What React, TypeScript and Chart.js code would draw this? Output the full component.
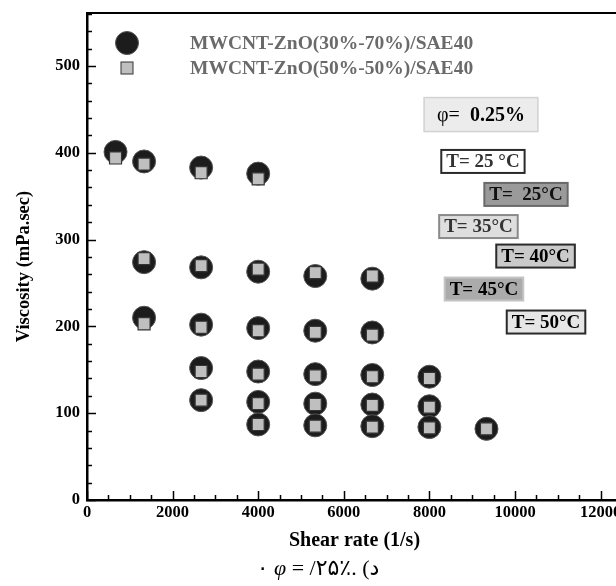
import React, { useEffect, useRef } from "react";
import { Chart, registerables } from "chart.js";
Chart.register(...registerables);

// ---- data (shear rate in 1/s, viscosity in mPa.sec) ----
const rateRowA = [666.7, 1333.3, 2666.7, 4000];
const circRowA = [401, 390, 383, 376];
const sqRowA = [394, 387, 377, 370];

const rateRowB = [1333.3, 2666.7, 4000, 5333.3, 6666.7];
const circRowB = [274, 268, 263, 258, 255];
const sqRowB = [278, 270, 266, 262, 258];

const rateRowC = [1333.3, 2666.7, 4000, 5333.3, 6666.7];
const circRowC = [210, 202, 198, 195, 193];
const sqRowC = [203, 199, 195, 193, 190];

const rateRowD = [2666.7, 4000, 5333.3, 6666.7, 8000];
const circRowD = [152, 148, 145, 144, 142];
const sqRowD = [148, 145, 143, 142, 140];

const rateRowE = [2666.7, 4000, 5333.3, 6666.7, 8000];
const circRowE = [115, 113, 111, 110, 108];
const sqRowE = [115, 111, 110, 109, 107];

const rateRowF = [4000, 5333.3, 6666.7, 8000, 9333.3];
const circRowF = [87, 86, 85, 84, 82];
const sqRowF = [87, 85, 84, 83, 82];

const seriesNames = ["MWCNT-ZnO(30%-70%)/SAE40", "MWCNT-ZnO(50%-50%)/SAE40"];

// axis ticks
const xMajorStep = 2000;
const xMinorStep = 500;
const yMajorStep = 100;
const yMinorStep = 20;

// annotation labels, anchored in data units (x, y = box centre)
const tempLabels = ["T= 25 °C", "T=  25°C", "T= 35°C", "T= 40°C", "T= 45°C", "T= 50°C"];
const tempLabelX = [9251, 10257, 9146, 10480, 9275, 10725];
const tempLabelY = [390, 352, 315, 281, 243, 205];
const phiPrefix = "φ=";
const phiValue = "0.25%";
const phiX = 9205;
const phiY = 444;

const xTitle = "Shear rate (1/s)";
const yTitle = "Viscosity (mPa.sec)";

const tempStyles = [
  { fill: "#ffffff", stroke: "#2a2a2a", text: "#333333" },
  { fill: "#9a9a9a", stroke: "#6a6a6a", text: "#111111" },
  { fill: "#dedede", stroke: "#8a8a8a", text: "#333333" },
  { fill: "#cacaca", stroke: "#2a2a2a", text: "#000000" },
  { fill: "#ababab", stroke: "#c4c4c4", text: "#000000" },
  { fill: "#e6e6e6", stroke: "#2a2a2a", text: "#000000" },
];

const zip = (xs: number[], ys: number[]) => xs.map((x, i) => ({ x, y: ys[i] }));

const SERIF = '"Liberation Serif", "Times New Roman", serif';

const overlayPlugin = {
  id: "overlay",
  afterDatasetsDraw(chart: any) {
    const { ctx, chartArea, scales } = chart;
    const xs = scales.x;
    const ys = scales.y;
    ctx.save();
    // top frame line
    ctx.strokeStyle = "#000";
    ctx.lineWidth = 2;
    ctx.beginPath();
    ctx.moveTo(chartArea.left, chartArea.top);
    ctx.lineTo(chartArea.right + 30, chartArea.top);
    ctx.stroke();

    // inward tick marks
    ctx.lineWidth = 1.5;
    xs.ticks.forEach((t: any) => {
      const px = Math.round(xs.getPixelForValue(t.value)) + 0.5;
      const len = t.value % xMajorStep === 0 ? 9 : 5;
      ctx.beginPath();
      ctx.moveTo(px, chartArea.bottom);
      ctx.lineTo(px, chartArea.bottom - len);
      ctx.stroke();
    });
    for (let v = ys.min; v <= ys.max; v += yMinorStep) {
      const py = Math.round(ys.getPixelForValue(v)) + 0.5;
      const len = v % yMajorStep === 0 ? 9 : 5;
      ctx.beginPath();
      ctx.moveTo(chartArea.left, py);
      ctx.lineTo(chartArea.left + len, py);
      ctx.stroke();
    }

    // y title
    ctx.save();
    ctx.translate(24, (chartArea.top + chartArea.bottom) / 2 + 10);
    ctx.rotate(-Math.PI / 2);
    ctx.font = `bold 18.5px ${SERIF}`;
    ctx.fillStyle = "#000";
    ctx.textAlign = "center";
    ctx.textBaseline = "middle";
    ctx.fillText(yTitle, 0, 0);
    ctx.restore();

    // legend
    const lx = chartArea.left + 40;
    const ly1 = chartArea.top + 30;
    const ly2 = chartArea.top + 55;
    ctx.fillStyle = "#1c1c1c";
    ctx.strokeStyle = "#555";
    ctx.lineWidth = 1;
    ctx.beginPath();
    ctx.arc(lx, ly1, 11.5, 0, Math.PI * 2);
    ctx.fill();
    ctx.stroke();
    ctx.fillStyle = "#bfbfbf";
    ctx.strokeStyle = "#333";
    ctx.fillRect(lx - 6, ly2 - 6, 12, 12);
    ctx.strokeRect(lx - 6, ly2 - 6, 12, 12);
    ctx.font = `bold 19.5px ${SERIF}`;
    ctx.fillStyle = "#6a6a6a";
    ctx.textAlign = "left";
    ctx.textBaseline = "middle";
    ctx.fillText(seriesNames[0], chartArea.left + 103, ly1 + 1);
    ctx.fillText(seriesNames[1], chartArea.left + 103, ly2 + 1);

    // phi box
    {
      const cx = xs.getPixelForValue(phiX);
      const cy = ys.getPixelForValue(phiY);
      ctx.font = `20px ${SERIF}`;
      const w1 = ctx.measureText(phiPrefix + "  ").width;
      ctx.font = `bold 20px ${SERIF}`;
      const w2 = ctx.measureText(phiValue).width;
      const bw = w1 + w2 + 26;
      const bh = 34;
      ctx.fillStyle = "#ececec";
      ctx.strokeStyle = "#d2d2d2";
      ctx.lineWidth = 1.5;
      ctx.fillRect(cx - bw / 2, cy - bh / 2, bw, bh);
      ctx.strokeRect(cx - bw / 2, cy - bh / 2, bw, bh);
      ctx.fillStyle = "#000";
      ctx.textAlign = "left";
      ctx.textBaseline = "middle";
      ctx.font = `20px ${SERIF}`;
      ctx.fillText(phiPrefix, cx - bw / 2 + 13, cy + 1);
      ctx.font = `bold 20px ${SERIF}`;
      ctx.fillText(phiValue, cx - bw / 2 + 13 + w1, cy + 1);
    }

    // temperature boxes
    ctx.font = `bold 19px ${SERIF}`;
    tempLabels.forEach((lab, i) => {
      const cx = xs.getPixelForValue(tempLabelX[i]);
      const cy = ys.getPixelForValue(tempLabelY[i]);
      const st = tempStyles[i];
      const tw = ctx.measureText(lab).width;
      const bw = tw + 10;
      const bh = 23;
      ctx.fillStyle = st.fill;
      ctx.strokeStyle = st.stroke;
      ctx.lineWidth = 2;
      ctx.fillRect(cx - bw / 2, cy - bh / 2, bw, bh);
      ctx.strokeRect(cx - bw / 2, cy - bh / 2, bw, bh);
      ctx.fillStyle = st.text;
      ctx.textAlign = "center";
      ctx.textBaseline = "middle";
      ctx.fillText(lab, cx, cy + 1);
    });
    ctx.restore();
  },
};

export default function App() {
  const ref = useRef<HTMLCanvasElement | null>(null);
  useEffect(() => {
    if (!ref.current) return;
    const circles = [
      ...zip(rateRowA, circRowA),
      ...zip(rateRowB, circRowB),
      ...zip(rateRowC, circRowC),
      ...zip(rateRowD, circRowD),
      ...zip(rateRowE, circRowE),
      ...zip(rateRowF, circRowF),
    ];
    const squares = [
      ...zip(rateRowA, sqRowA),
      ...zip(rateRowB, sqRowB),
      ...zip(rateRowC, sqRowC),
      ...zip(rateRowD, sqRowD),
      ...zip(rateRowE, sqRowE),
      ...zip(rateRowF, sqRowF),
    ];
    const chart = new Chart(ref.current, {
      type: "scatter",
      data: {
        datasets: [
          {
            label: seriesNames[0],
            data: circles,
            pointStyle: "circle",
            pointRadius: 11.5,
            backgroundColor: "#1c1c1c",
            borderColor: "#555555",
            borderWidth: 1,
            order: 2,
            clip: false,
          },
          {
            label: seriesNames[1],
            data: squares,
            pointStyle: "rect",
            pointRadius: 8.5,
            backgroundColor: "#bfbfbf",
            borderColor: "#333333",
            borderWidth: 1.2,
            order: 1,
            clip: false,
          },
        ],
      },
      options: {
        animation: false,
        responsive: false,
        devicePixelRatio: 1,
        layout: { padding: { top: 13, right: 18, left: 0, bottom: 0 } },
        plugins: { legend: { display: false }, tooltip: { enabled: false } },
        scales: {
          x: {
            type: "linear",
            min: 0,
            max: 12500,
            afterFit: (s: any) => {
              s.height = 86;
              s.paddingLeft = 0;
              s.paddingRight = 0;
            },
            border: { display: true, color: "#000", width: 2.5 },
            grid: { display: false, drawTicks: false },
            ticks: {
              stepSize: xMinorStep,
              autoSkip: false,
              maxRotation: 0,
              padding: 3,
              color: "#000",
              font: { family: SERIF, size: 16.5, weight: "bold" },
              callback: (v: any) => (Number(v) % xMajorStep === 0 ? String(v) : ""),
            },
            title: {
              display: true,
              text: xTitle,
              color: "#000",
              font: { family: SERIF, size: 20, weight: "bold" },
              padding: { top: 0, bottom: 33 },
            },
          },
          y: {
            type: "linear",
            min: 0,
            max: 561,
            afterFit: (s: any) => {
              s.width = 87;
              s.paddingTop = 0;
              s.paddingBottom = 0;
            },
            border: { display: true, color: "#000", width: 2.5 },
            grid: { display: false, drawTicks: false },
            ticks: {
              stepSize: yMajorStep,
              includeBounds: false,
              autoSkip: false,
              padding: 7,
              color: "#000",
              font: { family: SERIF, size: 16.5, weight: "bold" },
              callback: (v: any) => String(v),
            },
          },
        },
      },
      plugins: [overlayPlugin],
    } as any);
    return () => chart.destroy();
  }, []);

  return (
    <div
      style={{
        position: "fixed",
        left: 0,
        top: 0,
        width: 616,
        height: 586,
        overflow: "hidden",
        background: "#fff",
      }}
    >
      <canvas ref={ref} width={640} height={586} style={{ display: "block" }} />
      <div
        style={{
          position: "absolute",
          left: 218,
          top: 554,
          width: 200,
          textAlign: "center",
          fontFamily: '"Liberation Serif", "DejaVu Sans", serif',
          fontSize: 22,
          lineHeight: "28px",
          color: "#000",
          whiteSpace: "nowrap",
        }}
      >
        <bdo dir="ltr">
          ۰ <i>φ</i> = /۲۵٪. (د
        </bdo>
      </div>
    </div>
  );
}
